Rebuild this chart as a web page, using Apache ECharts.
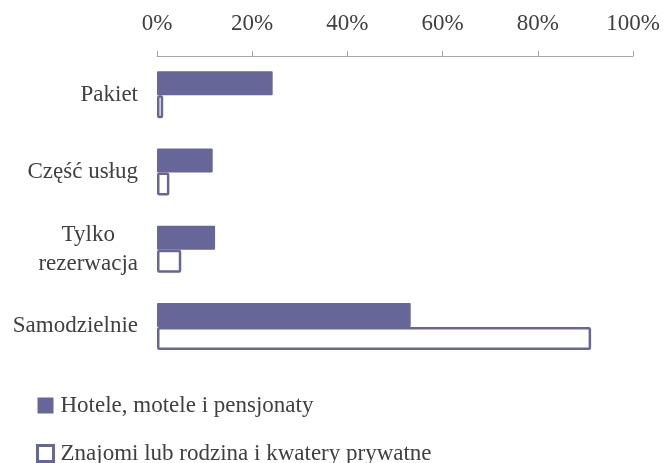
<!DOCTYPE html>
<html>
<head>
<meta charset="utf-8">
<script src="https://cdn.jsdelivr.net/npm/echarts@6/dist/echarts.min.js"></script>
<style>html,body{margin:0;padding:0;background:#fff;}#c{width:663px;height:463px;}</style>
</head>
<body>
<div id="c"></div>
<script>
var categories = ['Pakiet', 'Część usług', 'Tylko\nrezerwacja', 'Samodzielnie'];
var seriesNames = ['Hotele, motele i pensjonaty', 'Znajomi lub rodzina i kwatery prywatne'];
var hotele = [24.3, 11.7, 12.2, 53.3];
var znajomi = [1.3, 2.6, 5.1, 91.2];
var xTicks = [0, 20, 40, 60, 80, 100];

var FONT = '"Liberation Serif", "Times New Roman", serif';
var TXT = '#404040';
var PURPLE = '#666699';
var FS = 23;

var chart = echarts.init(document.getElementById('c'));
chart.setOption({
  animation: false,
  textStyle: { fontFamily: FONT },
  grid: { left: 157, right: 30, top: 56, bottom: 98, containLabel: false },
  xAxis: {
    type: 'value',
    position: 'top',
    min: xTicks[0],
    max: xTicks[xTicks.length - 1],
    interval: xTicks[1] - xTicks[0],
    axisLine: { show: true, lineStyle: { color: '#a6a6a6', width: 1 } },
    axisTick: { show: true, length: 5, lineStyle: { color: '#a6a6a6' } },
    splitLine: { show: false },
    axisLabel: { formatter: '{value}%', color: TXT, fontSize: FS, fontFamily: FONT, margin: 21 }
  },
  yAxis: {
    type: 'category',
    inverse: true,
    data: categories,
    axisLine: { show: false },
    axisTick: { show: false },
    axisLabel: {
      margin: 19,
      color: TXT,
      fontSize: FS,
      fontFamily: FONT,
      formatter: function (v) {
        return v.split('\n').map(function (l) { return '{c|' + l + '}'; }).join('\n');
      },
      rich: { c: { align: 'center', fontSize: FS, fontFamily: FONT, color: TXT, lineHeight: 29 } }
    }
  },
  legend: {
    orient: 'vertical',
    left: 31,
    top: 389,
    height: 120,
    itemWidth: 16,
    itemHeight: 16,
    itemGap: 25,
    icon: 'rect',
    textStyle: { fontSize: FS, fontFamily: FONT, color: TXT, padding: [0, 0, 0, 2] },
    data: [
      { name: seriesNames[0], itemStyle: { color: PURPLE, borderWidth: 0 } },
      { name: seriesNames[1], itemStyle: { color: '#ffffff', borderColor: PURPLE, borderWidth: 3 } }
    ]
  },
  series: [
    {
      name: seriesNames[0],
      type: 'bar',
      data: hotele,
      barWidth: 24,
      barGap: '0%',
      clip: false,
      itemStyle: { color: PURPLE, borderRadius: 1 }
    },
    {
      name: seriesNames[1],
      type: 'bar',
      data: znajomi,
      barWidth: 23,
      barGap: '0%',
      clip: false,
      itemStyle: { color: '#ffffff', borderColor: PURPLE, borderWidth: 2.5, borderRadius: 1 }
    }
  ]
});
</script>
</body>
</html>
